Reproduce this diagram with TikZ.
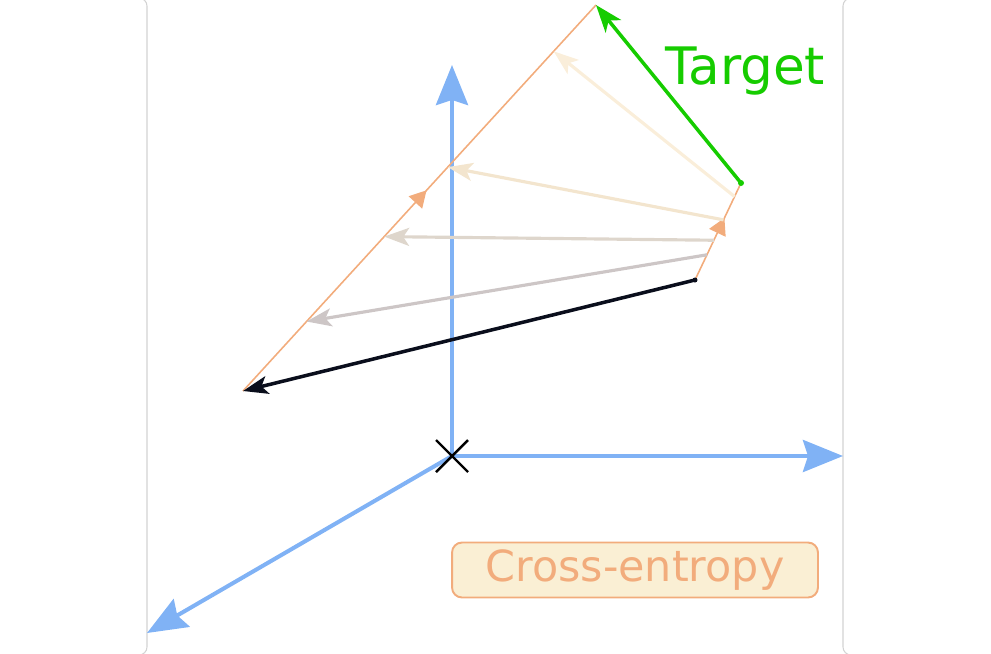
\documentclass[tikz,border=0pt]{standalone}
\usepackage{fontspec}
\setmainfont{DejaVu Sans}
\usetikzlibrary{calc}
\usetikzlibrary{arrows.meta}
\usetikzlibrary{decorations.markings}
\definecolor{axisblue}{RGB}{128,178,245}
\definecolor{pathorange}{RGB}{242,172,124}
\definecolor{boxcream}{RGB}{250,239,212}
\definecolor{targetgreen}{RGB}{22,204,0}
\definecolor{predblack}{RGB}{10,14,28}
\definecolor{framegray}{RGB}{210,210,210}
\definecolor{ghostA}{RGB}{205,198,198}
\definecolor{ghostB}{RGB}{222,214,204}
\definecolor{ghostC}{RGB}{243,229,206}
\definecolor{ghostD}{RGB}{250,238,218}
\newcommand*{\picwd }{991}
\newcommand*{\picht }{653}
\newcommand*{\rad   }{0.16cm}

\begin{document}
\begin{tikzpicture}[x=0.02cm, y=-0.02cm,
    axis/.style={draw=axisblue, line width=2.3pt, -{Stealth[length=0.8cm,width=0.64cm,inset=0.1cm]}},
    orangepath/.style={draw=pathorange, line width=0.9pt,
        decoration={markings, mark=at position #1 with {\arrow{Triangle[length=0.33cm,width=0.36cm]}}},
        postaction=decorate},
    ghost/.style={line width=1.8pt, -{Stealth[length=0.5cm,width=0.36cm,inset=0.12cm]}},
    frame/.style={draw=framegray, line width=0.6pt, rounded corners=\rad}]
    \useasboundingbox (0,0) rectangle (\picwd,\picht);
    \clip (0,0) rectangle (\picwd,\picht);
    \draw [frame] (-30,-2) rectangle (147,655);
    \draw [frame] (843,-2) rectangle (1030,655);
    % axes
    \coordinate (o) at (452,456);
    \coordinate (ytip) at (452,65);
    \coordinate (xtip) at (843,456);
    \coordinate (ztip) at (147,633);
    \draw [axis] (o) -- (ytip);
    \draw [axis] (o) -- (xtip);
    \draw [axis] (o) -- (ztip);
    % prediction and target
    \coordinate (p0) at (695,280);
    \coordinate (p1) at (243,391);
    \coordinate (g0) at (741,183);
    \coordinate (g1) at (596,5);
    \draw [orangepath=0.52] (p1) -- (g1);
    \draw [orangepath=0.64] (p0) -- (g0);
    \foreach \i/\ts/\te/\col in {4/0.86/0.88/ghostD, 3/0.62/0.58/ghostC, 2/0.41/0.40/ghostB, 1/0.26/0.18/ghostA}{
        \coordinate (s\i) at ($(p0)!\ts!(g0)$);
        \coordinate (e\i) at ($(p1)!\te!(g1)$);
        \draw [ghost, draw=\col] (s\i) -- (e\i);
    }
    \draw [line width=2pt, predblack, -{Stealth[length=0.5cm,width=0.36cm,inset=0.12cm]}] (p0) -- (p1);
    \fill [predblack] (p0) circle (0.05cm);
    \draw [line width=2pt, targetgreen, -{Stealth[length=0.55cm,width=0.4cm,inset=0.15cm]}] (g0) -- (g1);
    \fill [targetgreen] (g0) circle (0.06cm);
    \draw [line width=1.4pt, black] (o) ++(-16,-16) -- ++(32,32);
    \draw [line width=1.4pt, black] (o) ++(-16,16) -- ++(32,-32);
    % labels
    \node [anchor=base west, inner sep=0pt, text=targetgreen, font=\fontsize{29.4}{31}\selectfont] (target) at (665,84) {Target};
    \node [draw=pathorange, fill=boxcream, line width=1.1pt, rounded corners=0.2cm,
           minimum width=7.32cm, minimum height=1.1cm, inner sep=0pt,
           text=pathorange, font=\fontsize{24.4}{26}\selectfont] (ce) at (635,570) {Cross-entropy};
\end{tikzpicture}
\end{document}
